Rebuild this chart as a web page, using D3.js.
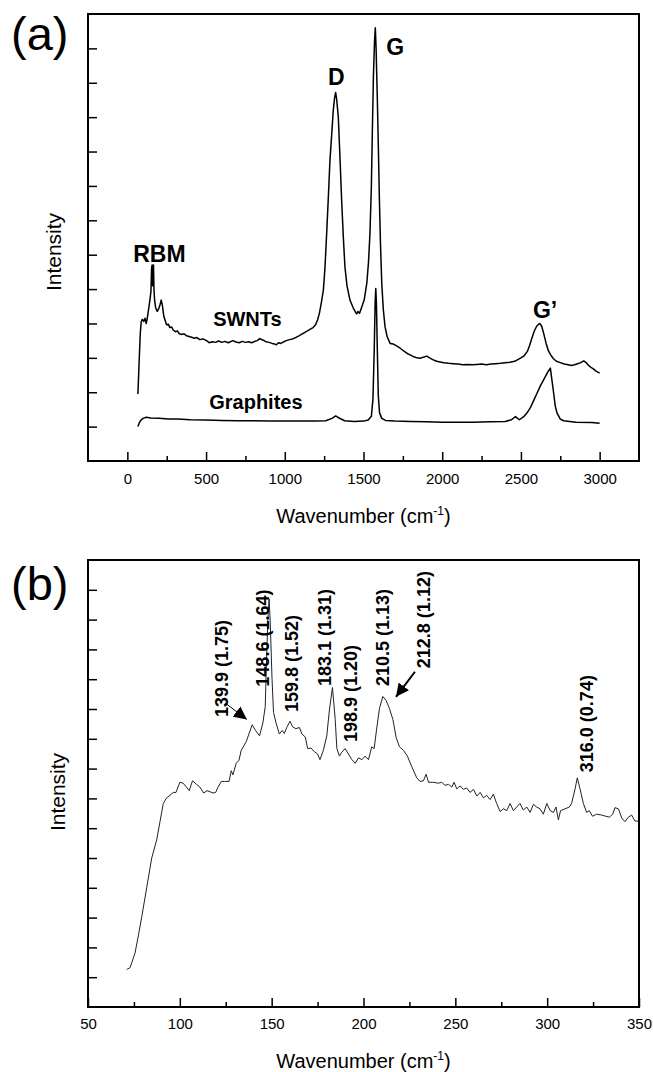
<!DOCTYPE html>
<html>
<head>
<meta charset="utf-8">
<script src="https://cdnjs.cloudflare.com/ajax/libs/d3/7.8.5/d3.min.js"></script>
<style>
    body { margin: 0; background: #fff; }
    svg text { font-family: "Liberation Sans", Arial, sans-serif; fill: #000; }
</style>
</head>
<body>
<div id="chart"></div>
<script>
// ---- panel (a): full Raman spectra, [wavenumber, intensity (a.u.)]
const swntData = [
    [67, 0.95], [75, 1.9], [82, 2.7], [88, 3.05], [95, 3.12], [104, 3.06], [112, 3.15], [120, 3.0],
    [128, 3.2], [136, 3.45], [144, 3.7], [150, 3.95], [154, 4.6], [157, 4.7], [160, 4.1], [163, 4.45],
    [166, 4.7], [169, 4.0], [173, 3.68], [180, 3.45], [190, 3.35], [200, 3.44], [208, 3.55], [215, 3.68],
    [222, 3.54], [232, 3.2], [249, 2.96], [260, 2.98], [270, 2.88], [281, 2.9], [291, 2.81], [305, 2.76],
    [318, 2.78], [330, 2.7], [345, 2.68], [360, 2.7], [376, 2.64], [392, 2.62], [408, 2.6], [425, 2.57],
    [442, 2.59], [460, 2.53], [480, 2.55], [503, 2.5], [520, 2.44], [540, 2.47], [560, 2.45], [580, 2.49],
    [600, 2.45], [620, 2.48], [640, 2.44], [651, 2.46], [670, 2.5], [690, 2.46], [710, 2.44], [730, 2.48],
    [750, 2.45], [770, 2.47], [790, 2.44], [810, 2.48], [825, 2.5], [841, 2.56], [860, 2.52], [880, 2.47],
    [900, 2.45], [920, 2.42], [935, 2.4], [947, 2.38], [960, 2.44], [975, 2.42], [990, 2.46], [1010, 2.5],
    [1030, 2.53], [1050, 2.55], [1074, 2.6], [1090, 2.64], [1105, 2.68], [1120, 2.72], [1135, 2.76],
    [1150, 2.8], [1165, 2.84], [1180, 2.88], [1195, 2.96], [1208, 3.1], [1220, 3.3], [1232, 3.6],
    [1245, 3.97], [1255, 4.6], [1266, 5.62], [1277, 6.7], [1287, 7.75], [1298, 8.5], [1308, 9.2],
    [1316, 9.55], [1323, 9.72], [1330, 9.5], [1340, 9.0], [1350, 7.9], [1361, 6.6], [1372, 5.5],
    [1382, 4.65], [1395, 4.1], [1414, 3.68], [1435, 3.45], [1450, 3.32], [1457, 3.28], [1465, 3.35],
    [1475, 3.3], [1489, 3.48], [1505, 3.7], [1521, 4.17], [1532, 4.8], [1541, 5.62], [1550, 7.0],
    [1556, 8.53], [1563, 10.2], [1570, 11.2], [1575, 11.6], [1580, 11.0], [1588, 9.5], [1595, 8.0],
    [1601, 6.6], [1608, 5.3], [1616, 4.17], [1626, 3.4], [1637, 2.9], [1650, 2.62], [1669, 2.42],
    [1690, 2.4], [1710, 2.35], [1733, 2.28], [1755, 2.2], [1780, 2.12], [1800, 2.08], [1820, 2.03],
    [1840, 2.0], [1860, 1.99], [1880, 2.02], [1902, 2.05], [1920, 2.0], [1940, 1.95], [1965, 1.9],
    [1987, 1.88], [2010, 1.86], [2040, 1.84], [2070, 1.83], [2100, 1.82], [2130, 1.8], [2160, 1.81],
    [2190, 1.8], [2220, 1.81], [2250, 1.82], [2280, 1.8], [2310, 1.82], [2340, 1.83], [2370, 1.84],
    [2400, 1.86], [2430, 1.87], [2460, 1.9], [2480, 1.95], [2500, 2.0], [2520, 2.06], [2540, 2.18],
    [2555, 2.36], [2570, 2.58], [2585, 2.78], [2600, 2.92], [2612, 2.98], [2620, 3.0], [2632, 2.92],
    [2644, 2.72], [2660, 2.42], [2675, 2.2], [2687, 2.1], [2705, 1.98], [2725, 1.9], [2750, 1.86],
    [2775, 1.82], [2800, 1.8], [2820, 1.78], [2840, 1.8], [2860, 1.83], [2880, 1.86], [2899, 1.91],
    [2915, 1.86], [2930, 1.78], [2945, 1.72], [2960, 1.68], [2975, 1.62], [2990, 1.58], [3000, 1.56]
];

const graphiteData = [
    [67, 0.0], [75, 0.1], [85, 0.18], [99, 0.24], [120, 0.27], [150, 0.25], [200, 0.24], [260, 0.22],
    [320, 0.22], [400, 0.2], [500, 0.19], [600, 0.18], [700, 0.17], [800, 0.17], [900, 0.16],
    [1000, 0.16], [1100, 0.16], [1200, 0.16], [1260, 0.17], [1300, 0.24], [1323, 0.31], [1345, 0.25],
    [1380, 0.17], [1440, 0.15], [1500, 0.16], [1530, 0.19], [1550, 0.3], [1560, 0.8], [1568, 2.2],
    [1574, 3.6], [1578, 4.02], [1582, 3.6], [1588, 2.2], [1594, 0.9], [1602, 0.4], [1616, 0.24],
    [1640, 0.18], [1700, 0.16], [1800, 0.15], [1900, 0.14], [2000, 0.13], [2100, 0.13], [2200, 0.13],
    [2300, 0.14], [2400, 0.15], [2440, 0.2], [2465, 0.29], [2490, 0.2], [2520, 0.3], [2539, 0.4],
    [2560, 0.55], [2580, 0.75], [2602, 0.97], [2625, 1.2], [2644, 1.36], [2660, 1.5], [2672, 1.6],
    [2687, 1.7], [2697, 1.35], [2708, 0.97], [2718, 0.6], [2729, 0.4], [2750, 0.22], [2771, 0.17],
    [2850, 0.13], [2950, 0.12], [3000, 0.1]
];

// band / curve names anchored at [wavenumber, intensity]
const bandLabels = [["RBM", 37, 4.8], ["D", 1275, 9.94], ["G", 1645, 10.81], ["G\u2019", 2576, 3.15]];
const curveLabels = [["SWNTs", 545, 2.93], ["Graphites", 520, 0.5]];

// ---- panel (b): RBM region
const rbmData = [
    [71.1, 0.26], [72.9, 0.32], [75.6, 0.81], [77.5, 1.42], [79.3, 2.04], [82.0, 3.02], [84.7, 4.0],
    [87.4, 4.61], [89.2, 5.22], [91.0, 5.83], [92.8, 6.02], [94.6, 6.1], [96.4, 6.2], [97.9, 6.2],
    [100.0, 6.54], [101.8, 6.51], [103.6, 6.38], [105.1, 6.26], [106.9, 6.59], [109.1, 6.47],
    [110.9, 6.38], [113.0, 6.18], [114.8, 6.26], [116.6, 6.22], [118.1, 6.18], [119.5, 6.2],
    [120.8, 6.38], [122.6, 6.57], [124.4, 6.57], [126.8, 6.57], [128.0, 6.93], [128.9, 6.79],
    [130.7, 7.18], [132.2, 7.28], [133.4, 7.61], [136.2, 7.91], [137.6, 8.16], [139.4, 8.47],
    [141.2, 8.28], [143.4, 8.1], [145.2, 8.53], [146.5, 9.08], [147.0, 10.24], [147.9, 11.96],
    [148.6, 12.69], [149.2, 11.96], [150.2, 10.0], [151.0, 8.89], [152.4, 8.53], [154.2, 8.16],
    [155.7, 8.28], [156.9, 8.18], [158.2, 8.38], [160.0, 8.59], [161.4, 8.4], [163.2, 8.34],
    [165.1, 8.38], [166.5, 8.16], [168.3, 8.06], [169.6, 7.67], [171.4, 7.69], [173.2, 7.57],
    [175.0, 7.49], [176.3, 7.3], [178.1, 7.6], [180.0, 8.1], [181.5, 9.0], [183.1, 9.72],
    [184.6, 8.65], [185.5, 7.67], [186.9, 7.42], [188.2, 7.55], [190.0, 7.67], [191.8, 7.49],
    [193.7, 7.30], [195.5, 7.18], [197.3, 7.36], [199.1, 7.30], [200.9, 7.42], [202.7, 7.30],
    [204.5, 7.73], [205.8, 7.67], [207.3, 8.40], [208.7, 9.02], [210.5, 9.42], [212.3, 9.29],
    [214.1, 9.02], [216.0, 8.65], [217.8, 8.04], [219.6, 7.73], [221.8, 7.61], [223.9, 7.42],
    [226.3, 7.06], [229.0, 6.69], [230.8, 6.57], [232.6, 6.59], [234.1, 6.81], [235.4, 6.54],
    [238.1, 6.54], [240.8, 6.51], [242.6, 6.54], [244.4, 6.44], [246.3, 6.47], [248.1, 6.38],
    [249.3, 6.54], [250.8, 6.32], [252.6, 6.42], [254.4, 6.30], [256.2, 6.35], [258.0, 6.2],
    [259.9, 6.30], [261.7, 6.08], [263.5, 6.2], [265.3, 6.02], [267.1, 6.10], [268.9, 5.96],
    [270.7, 6.14], [272.5, 5.83], [274.4, 5.56], [276.2, 5.65], [278.0, 5.59], [279.8, 5.83],
    [281.6, 5.59], [283.4, 5.71], [285.2, 5.83], [287.0, 5.61], [288.9, 5.71], [290.7, 5.53],
    [292.5, 5.80], [294.3, 5.71], [296.1, 5.65], [297.9, 5.47], [299.8, 5.83], [301.6, 5.59],
    [303.4, 5.53], [304.8, 5.71], [306.1, 5.28], [307.3, 5.59], [309.7, 5.65], [312.1, 5.71],
    [313.3, 5.83], [315.2, 6.32], [316.4, 6.69], [317.9, 6.32], [319.7, 5.83], [321.5, 5.53],
    [322.9, 5.59], [324.7, 5.40], [326.9, 5.47], [329.7, 5.44], [332.0, 5.40], [333.9, 5.37],
    [335.7, 5.47], [336.9, 5.69], [338.8, 5.65], [340.6, 5.34], [342.4, 5.22], [344.2, 5.37],
    [346.0, 5.44], [347.8, 5.24], [349.6, 5.24]
];

// peak labels: text, wavenumber of baseline, intensity where the text starts
const peakLabels = [
    ["139.9 (1.75)", 126.0, 8.73], ["148.6 (1.64)", 148.6, 9.75], ["159.8 (1.52)", 164.4, 8.9],
    ["183.1 (1.31)", 182.1, 9.77], ["198.9 (1.20)", 196.5, 7.89], ["210.5 (1.13)", 213.9, 9.77],
    ["212.8 (1.12)", 236.2, 10.37], ["316.0 (0.74)", 325.1, 6.88]
];
// arrows: [from x, from y, to x, to y]
const peakArrows = [[124.7, 9.2, 136.5, 8.65], [228.0, 10.25, 217.7, 9.41]];

const xMajorA = [0, 500, 1000, 1500, 2000, 2500, 3000];
const xMinorA = [250, 750, 1250, 1750, 2250, 2750];
const yTicksA = d3.range(0, 12);
const xMajorB = [50, 100, 150, 200, 250, 300, 350];
const xMinorB = [75, 125, 175, 225, 275, 325];
const yTicksB = d3.range(0, 14);

const width = 653, height = 1072;
const svg = d3.select("#chart").append("svg")
    .attr("width", width)
    .attr("height", height);

const defs = svg.append("defs");
defs.append("marker")
    .attr("id", "head")
    .attr("viewBox", "0 0 10 10")
    .attr("refX", 10).attr("refY", 5)
    .attr("markerUnits", "userSpaceOnUse")
    .attr("markerWidth", 13).attr("markerHeight", 13)
    .attr("orient", "auto")
    .append("path")
    .attr("d", "M0,0 L10,5 L0,10 z")
    .attr("fill", "#000");

function drawPanel(p) {
    const x = d3.scaleLinear().domain(p.xDomain).range([p.left, p.right]);
    const y = d3.scaleLinear().domain(p.yDomain).range([p.bottom, p.top]);
    const g = svg.append("g");

    // ticks point into the plot
    g.append("g")
        .attr("transform", `translate(0,${p.bottom})`)
        .call(d3.axisBottom(x).tickValues(p.xMajor).tickFormat(d3.format("d"))
            .tickSize(-9).tickSizeOuter(0).tickPadding(p.pad))
        .call(a => a.select(".domain").remove())
        .call(a => a.selectAll("line").attr("stroke-width", 1.5))
        .call(a => a.selectAll("text").attr("font-size", 15).style("font-family", "Liberation Sans, Arial, sans-serif"));
    g.append("g")
        .attr("transform", `translate(0,${p.bottom})`)
        .call(d3.axisBottom(x).tickValues(p.xMinor).tickSize(-5).tickSizeOuter(0).tickFormat(""))
        .call(a => a.select(".domain").remove())
        .call(a => a.selectAll("line").attr("stroke-width", 1.5));
    g.append("g")
        .attr("transform", `translate(${p.left},0)`)
        .call(d3.axisLeft(y).tickValues(p.yTicks).tickSize(-9).tickSizeOuter(0).tickFormat(""))
        .call(a => a.select(".domain").remove())
        .call(a => a.selectAll("line").attr("stroke-width", 1.5));

    g.append("rect")
        .attr("x", p.left).attr("y", p.top)
        .attr("width", p.right - p.left).attr("height", p.bottom - p.top)
        .attr("fill", "none").attr("stroke", "#000").attr("stroke-width", 2);

    const line = d3.line().x(d => x(d[0])).y(d => y(d[1]));
    p.series.forEach(s => {
        g.append("path")
            .attr("d", line(s))
            .attr("fill", "none")
            .attr("stroke", p.lineColor)
            .attr("stroke-width", p.lineWidth)
            .attr("stroke-linejoin", "round");
    });

    // axis titles
    const xt = g.append("text")
        .attr("x", (p.left + p.right) / 2)
        .attr("y", p.xTitleY)
        .attr("text-anchor", "middle")
        .attr("font-size", 20);
    xt.append("tspan").text("Wavenumber (cm");
    xt.append("tspan").attr("font-size", 12).attr("dy", -8).text("-1");
    xt.append("tspan").attr("dy", 8).text(")");

    g.append("text")
        .attr("transform", `translate(${p.yTitleX},${p.yTitleY}) rotate(-90)`)
        .attr("text-anchor", "middle")
        .attr("font-size", 21)
        .text("Intensity");

    g.append("text")
        .attr("x", 11).attr("y", p.tagY)
        .attr("font-size", 47)
        .text(p.tag);

    return { x, y, g };
}

// ---- panel (a)
const pa = drawPanel({
    left: 88, right: 639, top: 14, bottom: 461,
    xDomain: [-250, 3250], yDomain: [-1, 12],
    xMajor: xMajorA, xMinor: xMinorA, yTicks: yTicksA, pad: 12,
    series: [swntData, graphiteData], lineColor: "#000", lineWidth: 1.5,
    xTitleY: 523, yTitleX: 61, yTitleY: 252, tag: "(a)", tagY: 50
});

bandLabels.forEach(([t, wx, wy]) => {
    pa.g.append("text")
        .attr("x", pa.x(wx)).attr("y", pa.y(wy))
        .attr("font-size", 23).attr("font-weight", "bold")
        .text(t);
});
curveLabels.forEach(([t, wx, wy]) => {
    pa.g.append("text")
        .attr("x", pa.x(wx)).attr("y", pa.y(wy))
        .attr("font-size", 20).attr("font-weight", "bold")
        .text(t);
});

// ---- panel (b)
const pb = drawPanel({
    left: 88, right: 639, top: 560, bottom: 1007,
    xDomain: [50, 350], yDomain: [-1, 14],
    xMajor: xMajorB, xMinor: xMinorB, yTicks: yTicksB, pad: 11.5,
    series: [rbmData], lineColor: "#222", lineWidth: 1,
    xTitleY: 1068, yTitleX: 65, yTitleY: 792, tag: "(b)", tagY: 600
});

peakLabels.forEach(([t, wx, wy]) => {
    pb.g.append("text")
        .attr("transform", `translate(${pb.x(wx)},${pb.y(wy)}) rotate(-90)`)
        .attr("font-size", 18).attr("font-weight", "bold")
        .text(t);
});
peakArrows.forEach(([x1, y1, x2, y2], i) => {
    pb.g.append("line")
        .attr("x1", pb.x(x1)).attr("y1", pb.y(y1))
        .attr("x2", pb.x(x2)).attr("y2", pb.y(y2))
        .attr("stroke", "#000")
        .attr("stroke-width", i === 0 ? 1 : 2)
        .attr("marker-end", "url(#head)");
});
</script>
</body>
</html>
